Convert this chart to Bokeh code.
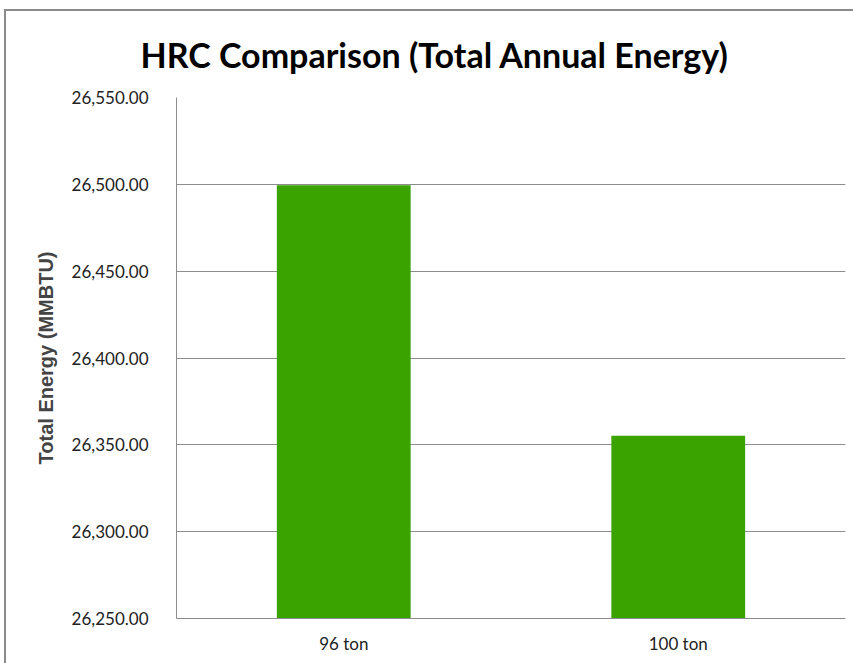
from bokeh.plotting import figure
from bokeh.models import Range1d, FactorRange, NumeralTickFormatter, FixedTicker, ColumnDataSource
from bokeh.embed import file_html
from bokeh.resources import INLINE

categories = ["96 ton", "100 ton"]
energy = [26499.5, 26355.3]
y_ticks = [26250, 26300, 26350, 26400, 26450, 26500, 26550]
y_start, y_end = 26250, 26550

src = ColumnDataSource(dict(cat=categories, val=energy))

border_css = ("linear-gradient(#8a8a8a, #8a8a8a) 4px 9px / 100% 2px no-repeat, "
              "linear-gradient(#8a8a8a, #8a8a8a) 4px 9px / 2px 100% no-repeat, #ffffff")

p = figure(width=853, height=663, x_range=FactorRange(factors=categories, range_padding=0),
           y_range=Range1d(y_start, y_end), output_backend="svg", toolbar_location=None,
           title="HRC Comparison (Total Annual Energy)",
           min_border_left=176, min_border_right=8, min_border_top=97, min_border_bottom=45,
           styles={"background": border_css, "overflow": "hidden"})

p.vbar(x="cat", top="val", bottom=y_start, width=0.4, source=src, fill_color="#3aa300", line_color=None)

p.title.text_font = "Lato"
p.title.text_font_size = "34px"
p.title.text_font_style = "bold"
p.title.align = "left"
p.title.offset = -36
p.title.text_color = "#000000"
p.title.standoff = 45

p.outline_line_color = None
p.background_fill_color = "white"
p.border_fill_color = None
p.xgrid.grid_line_color = None
p.ygrid.grid_line_color = "#8c8c8c"
p.ygrid.grid_line_width = 1

p.yaxis.ticker = FixedTicker(ticks=y_ticks)
p.yaxis.formatter = NumeralTickFormatter(format="0,0.00")
p.yaxis.axis_label = "Total Energy (MMBTU)"
p.yaxis.axis_label_text_font = "Liberation Sans"
p.yaxis.axis_label_text_font_style = "bold"
p.yaxis.axis_label_text_font_size = "20px"
p.yaxis.axis_label_standoff = 12

for ax in (p.xaxis, p.yaxis):
    ax.major_label_text_font = "Lato"
    ax.major_label_text_font_size = "17px"
    ax.major_label_text_color = "#222222"
    ax.axis_line_color = "#8c8c8c"
    ax.major_tick_line_color = None
    ax.minor_tick_line_color = None

p.yaxis.major_label_standoff = 22
p.xaxis.major_label_standoff = 8

open("out.html", "w").write(file_html(p, INLINE))
